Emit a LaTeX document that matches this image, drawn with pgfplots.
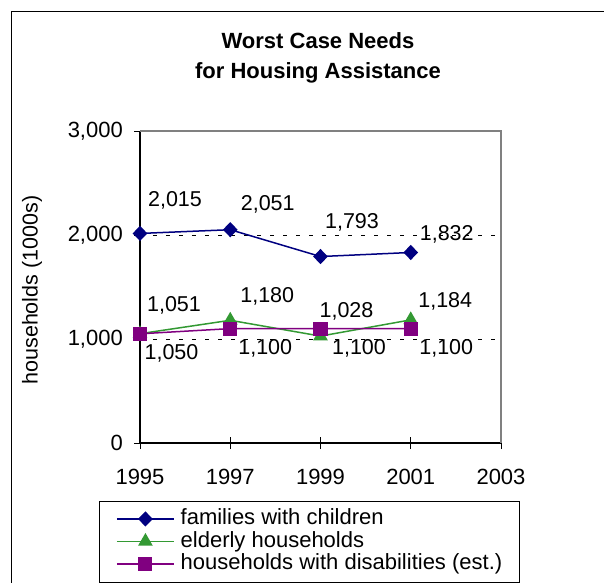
\documentclass[border=0pt]{standalone}
\usepackage{fontspec}
\setmainfont{Liberation Sans}
\usepackage{pgfplots}
\usepackage{pgfplotstable}
\pgfplotsset{compat=1.18}

\definecolor{famblue}{RGB}{0,0,128}
\definecolor{eldgreen}{RGB}{51,153,51}
\definecolor{dispurple}{RGB}{128,0,128}

% year, value, label offset (dx, dy) in pt
\pgfplotstableread{
year val  dx   dy
1995 2015 35   32.7
1997 2051 37.5 25
1999 1793 31.5 34.5
2001 1832 36   18
}\families
\pgfplotstableread{
year val  dx   dy
1995 1051 34   28.7
1997 1180 37   23.6
1999 1028 26   25
2001 1184 34.5 19
}\elderly
\pgfplotstableread{
year val  dx   dy
1995 1050 31.5 -19.2
1997 1100 35   -19.4
1999 1100 38.5 -19.4
2001 1100 35.5 -19.4
}\disab

\pgfplotsset{
  vallabels/.style={
    forget plot, draw=none, mark=none,
    nodes near coords,
    visualization depends on={\thisrow{dx}\as\dx},
    visualization depends on={\thisrow{dy}\as\dy},
    nodes near coords style={anchor=center, inner sep=0pt, xshift=\dx, yshift=\dy,
      font=\fontsize{21.5}{25}\selectfont, text=black},
  },
}

\begin{document}
\begin{tikzpicture}[x=1pt,y=1pt]
\clip (-140,-139) rectangle (464,443);
\draw[line width=1.2pt] (-128.5,-200) -- (-128.5,431.5) -- (520,431.5);
\node[font=\bfseries\fontsize{22}{30}\selectfont, align=center] at (178,385)
  {Worst Case Needs\\for Housing Assistance};
\begin{axis}[
  at={(0,0)}, anchor=south west,
  scale only axis, width=361pt, height=312pt,
  xmin=1995, xmax=2003, ymin=0, ymax=3000,
  xtick={1995,1997,1999,2001,2003},
  ytick={0,1000,2000,3000},
  axis lines*=left,
  axis line style={-, line width=1.2pt, black},
  clip=false,
  scaled ticks=false,
  tick align=outside,
  major tick length=6pt,
  tick style={black, line width=0.8pt},
  xtick style={yshift=6pt, /pgfplots/major tick length=12pt},
  ymajorgrids,
  grid style={black, line width=0.8pt, dash pattern=on 4pt off 9pt},
  /pgf/number format/assume math mode=true,
  /pgf/number format/1000 sep={,},
  tick label style={font=\fontsize{22}{25}\selectfont},
  xticklabel style={/pgf/number format/1000 sep={}, anchor=north, inner sep=0pt, yshift=-20pt},
  yticklabel style={anchor=east, inner sep=0pt, xshift=-11pt},
  ylabel={households (1000s)},
  ylabel style={font=\fontsize{21.5}{25}\selectfont, at={(axis description cs:-0.299,0.49)}, anchor=center},
  legend image code/.code={\draw[mark repeat=2,mark phase=2,#1, line width=1.5pt]
    plot coordinates {(0pt,0pt) (28.5pt,0pt) (57pt,0pt)};},
  legend style={at={(axis description cs:-0.1136,-0.1859)}, anchor=north west,
    draw=black, inner xsep=17pt, inner ysep=7.5pt,
    font=\fontsize{22}{25}\selectfont,
    nodes={inner sep=0pt, text height=16pt, text depth=4.5pt},
    row sep=2pt, column sep=6pt},
  legend cell align=left,
]
\addplot[famblue, line width=1.5pt, mark=diamond*, mark size=6.5pt,
  mark options={xscale=1.3, solid}] table[x=year, y=val] {\families};
\addlegendentry{families with children}
\addplot[eldgreen, line width=1.5pt, mark=triangle*, mark size=7pt,
  mark options={solid}] table[x=year, y=val] {\elderly};
\addlegendentry{elderly households}
\addplot[dispurple, line width=1.5pt, mark=square*, mark size=6.3pt,
  mark options={solid}] table[x=year, y=val] {\disab};
\addlegendentry{households with disabilities (est.)}
\addplot[vallabels] table[x=year, y=val] {\families};
\addplot[vallabels] table[x=year, y=val] {\elderly};
\addplot[vallabels] table[x=year, y=val] {\disab};
\draw[gray, line width=1.5pt] (rel axis cs:0,1) -- (rel axis cs:1,1) -- (rel axis cs:1,0);
\end{axis}
\end{tikzpicture}
\end{document}
